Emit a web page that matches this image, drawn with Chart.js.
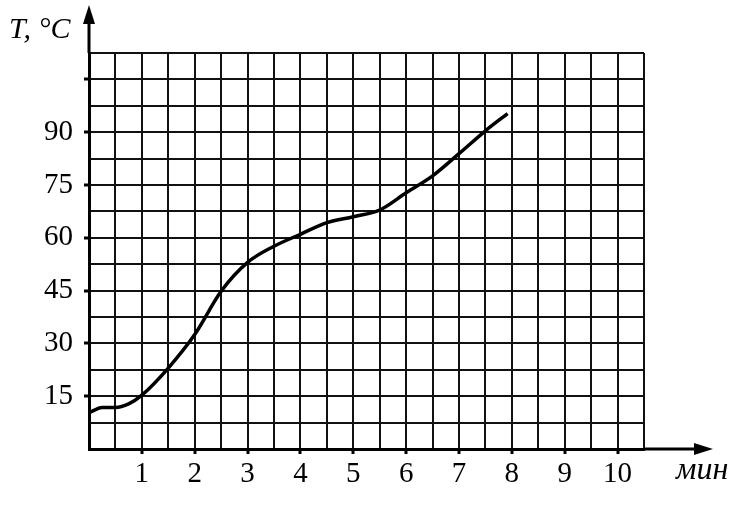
<!DOCTYPE html>
<html>
<head>
<meta charset="utf-8">
<script src="https://cdn.jsdelivr.net/npm/chart.js@4.4.0/dist/chart.umd.min.js"></script>
<style>
    html, body { margin: 0; padding: 0; background: #fff; }
    #wrap { width: 740px; height: 505px; }
</style>
</head>
<body>
<div id="wrap"><canvas id="heatChart" width="740" height="505"></canvas></div>
<script>
// Heating curve: time in minutes, temperature in °C
const timeMin = [0, 0.25, 0.5, 0.75, 1, 1.5, 2, 2.5, 3, 3.5, 4, 4.5, 5, 5.5, 6, 6.5, 7, 7.5, 7.92];
const tempC = [10.3, 11.8, 11.8, 12.8, 15.3, 23, 32.5, 44.8, 53, 57.6, 61, 64.3, 66, 67.9, 72.8, 77.6, 83.9, 90.4, 95.3];

// Axis labels
const xTickLabels = [1, 2, 3, 4, 5, 6, 7, 8, 9, 10];
const yTickLabels = [15, 30, 45, 60, 75, 90];
const yTickMarks = [15, 30, 45, 60, 75, 90, 105];
const yTitle = 'T, °C';
const xTitle = 'мин';

const serif = '"Liberation Serif", "DejaVu Serif", serif';

// Axis arrows and titles drawn past the grid
const axisArrows = {
    id: 'axisArrows',
    afterDraw(chart) {
        const ctx = chart.ctx;
        const { left, top, right, bottom } = chart.chartArea;
        ctx.save();
        ctx.strokeStyle = '#000';
        ctx.fillStyle = '#000';
        ctx.lineWidth = 3;

        // vertical axis
        ctx.beginPath();
        ctx.moveTo(left, top);
        ctx.lineTo(left, 18);
        ctx.stroke();
        ctx.beginPath();
        ctx.moveTo(left, 5);
        ctx.lineTo(left - 6, 24);
        ctx.lineTo(left + 6, 24);
        ctx.closePath();
        ctx.fill();

        // horizontal axis
        ctx.beginPath();
        ctx.moveTo(right, bottom);
        ctx.lineTo(700, bottom);
        ctx.stroke();
        ctx.beginPath();
        ctx.moveTo(713, bottom);
        ctx.lineTo(694, bottom - 6);
        ctx.lineTo(694, bottom + 6);
        ctx.closePath();
        ctx.fill();

        ctx.font = 'italic 30px ' + serif;
        ctx.textBaseline = 'alphabetic';
        ctx.textAlign = 'left';
        ctx.fillText(yTitle, 9, 38);
        ctx.font = 'italic 32px ' + serif;
        ctx.fillText(xTitle, 676, 479);
        ctx.restore();
    }
};

function initializeChart() {
    const ctx = document.getElementById('heatChart').getContext('2d');

    new Chart(ctx, {
        type: 'line',
        data: {
            datasets: [{
                data: timeMin.map((t, i) => ({ x: t, y: tempC[i] })),
                borderColor: '#000',
                borderWidth: 3.5,
                pointRadius: 0,
                fill: false,
                cubicInterpolationMode: 'monotone'
            }]
        },
        options: {
            responsive: false,
            animation: false,
            layout: {
                padding: { left: 0, top: 53, right: 96, bottom: 0 }
            },
            plugins: {
                legend: { display: false },
                tooltip: { enabled: false }
            },
            scales: {
                x: {
                    type: 'linear',
                    min: 0,
                    max: 10.5,
                    afterFit: scale => { scale.height = 56; },
                    border: { display: true, color: '#000', width: 3 },
                    grid: {
                        color: '#111',
                        lineWidth: 2,
                        tickLength: 5,
                        tickWidth: 3,
                        tickColor: c => xTickLabels.includes(c.tick && c.tick.value) ? '#000' : 'rgba(0,0,0,0)'
                    },
                    ticks: {
                        stepSize: 0.5,
                        autoSkip: false,
                        maxRotation: 0,
                        padding: 3,
                        color: '#000',
                        font: { family: serif, size: 29 },
                        callback: v => xTickLabels.includes(v) ? String(v) : ''
                    }
                },
                y: {
                    type: 'linear',
                    min: 0,
                    max: 112.5,
                    afterFit: scale => { scale.width = 89; },
                    border: { display: true, color: '#000', width: 3 },
                    grid: {
                        color: '#111',
                        lineWidth: 2,
                        tickLength: 5,
                        tickWidth: 3,
                        tickColor: c => yTickMarks.includes(c.tick && c.tick.value) ? '#000' : 'rgba(0,0,0,0)'
                    },
                    ticks: {
                        stepSize: 7.5,
                        autoSkip: false,
                        padding: 11,
                        color: '#000',
                        font: { family: serif, size: 29 },
                        callback: v => yTickLabels.includes(v) ? String(v) : ''
                    }
                }
            }
        },
        plugins: [axisArrows]
    });
}

document.addEventListener('DOMContentLoaded', initializeChart);
</script>
</body>
</html>
